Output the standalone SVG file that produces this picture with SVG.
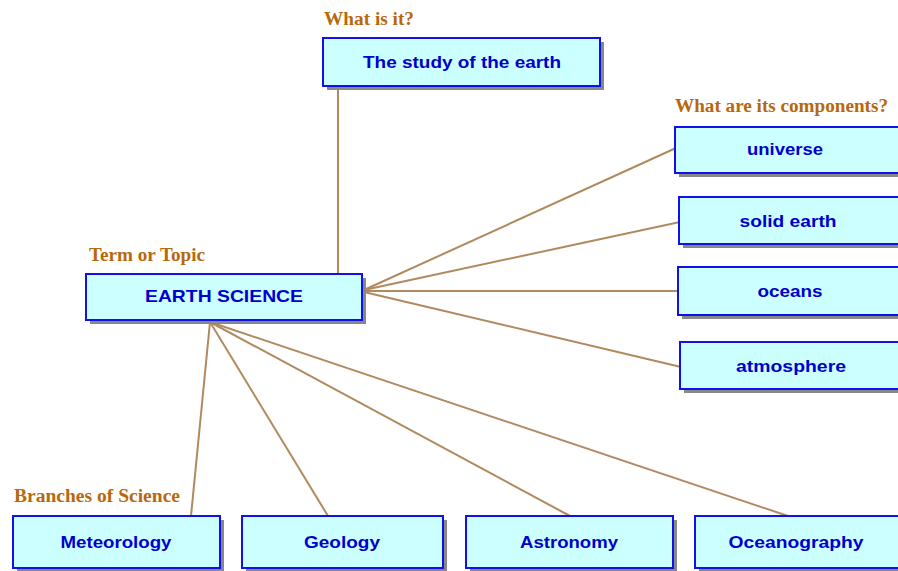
<svg xmlns="http://www.w3.org/2000/svg" width="898" height="571" viewBox="0 0 898 571">
<style>
.box{fill:#ccffff;stroke:#1010ee;stroke-width:2}
.sh{fill:#888888}
.t{font-family:"Liberation Sans",Arial,sans-serif;font-weight:bold;font-size:17px;fill:#0000cc;text-anchor:middle}
.lab{font-family:"Liberation Serif","Times New Roman",serif;font-weight:bold;font-size:18px;fill:#b8680c}
.c{stroke:#b08a5e;stroke-width:2;fill:none}
</style>
<rect width="898" height="571" fill="#ffffff"/>
<g id="connectors">
<line class="c" x1="338" y1="86" x2="338" y2="274"/>
<line class="c" x1="364" y1="290" x2="676" y2="148"/>
<line class="c" x1="364" y1="290" x2="680" y2="222"/>
<line class="c" x1="364" y1="291" x2="679" y2="291"/>
<line class="c" x1="364" y1="292" x2="681" y2="367"/>
<line class="c" x1="210" y1="322" x2="191" y2="516"/>
<line class="c" x1="210" y1="322" x2="328" y2="516"/>
<line class="c" x1="210" y1="322" x2="570" y2="516"/>
<line class="c" x1="210" y1="322" x2="788" y2="516"/>
</g>
<g id="labels">
<text class="lab" x="324" y="25" textLength="90" lengthAdjust="spacingAndGlyphs">What is it?</text>
<text class="lab" x="675" y="112" textLength="213" lengthAdjust="spacingAndGlyphs">What are its components?</text>
<text class="lab" x="89" y="261" textLength="116" lengthAdjust="spacingAndGlyphs">Term or Topic</text>
<text class="lab" x="14" y="502" textLength="166" lengthAdjust="spacingAndGlyphs">Branches of Science</text>
</g>
<g id="n-study"><rect class="sh" x="327" y="42" width="277" height="48"/><rect class="box" x="323" y="38" width="277" height="48"/><text class="t" x="462" y="68" textLength="198" lengthAdjust="spacingAndGlyphs">The study of the earth</text></g>
<g id="n-universe"><rect class="sh" x="679" y="131" width="230" height="46"/><rect class="box" x="675" y="127" width="230" height="46"/><text class="t" x="785" y="155" textLength="76" lengthAdjust="spacingAndGlyphs">universe</text></g>
<g id="n-solid"><rect class="sh" x="683" y="201" width="230" height="47"/><rect class="box" x="679" y="197" width="230" height="47"/><text class="t" x="788" y="227" textLength="97" lengthAdjust="spacingAndGlyphs">solid earth</text></g>
<g id="n-oceans"><rect class="sh" x="682" y="271" width="230" height="48"/><rect class="box" x="678" y="267" width="230" height="48"/><text class="t" x="790" y="297" textLength="65" lengthAdjust="spacingAndGlyphs">oceans</text></g>
<g id="n-atmosphere"><rect class="sh" x="684" y="346" width="230" height="47"/><rect class="box" x="680" y="342" width="230" height="47"/><text class="t" x="791" y="372" textLength="110" lengthAdjust="spacingAndGlyphs">atmosphere</text></g>
<g id="n-earth"><rect class="sh" x="90" y="278" width="276" height="46"/><rect class="box" x="86" y="274" width="276" height="46"/><text class="t" x="224" y="302" textLength="158" lengthAdjust="spacingAndGlyphs">EARTH SCIENCE</text></g>
<g id="n-meteorology"><rect class="sh" x="17" y="520" width="207" height="52"/><rect class="box" x="13" y="516" width="207" height="52"/><text class="t" x="116" y="548" textLength="111" lengthAdjust="spacingAndGlyphs">Meteorology</text></g>
<g id="n-geology"><rect class="sh" x="246" y="520" width="201" height="52"/><rect class="box" x="242" y="516" width="201" height="52"/><text class="t" x="342" y="548" textLength="76" lengthAdjust="spacingAndGlyphs">Geology</text></g>
<g id="n-astronomy"><rect class="sh" x="470" y="520" width="207" height="52"/><rect class="box" x="466" y="516" width="207" height="52"/><text class="t" x="569" y="548" textLength="98" lengthAdjust="spacingAndGlyphs">Astronomy</text></g>
<g id="n-oceanography"><rect class="sh" x="699" y="520" width="210" height="52"/><rect class="box" x="695" y="516" width="210" height="52"/><text class="t" x="796" y="548" textLength="135" lengthAdjust="spacingAndGlyphs">Oceanography</text></g>
</svg>
